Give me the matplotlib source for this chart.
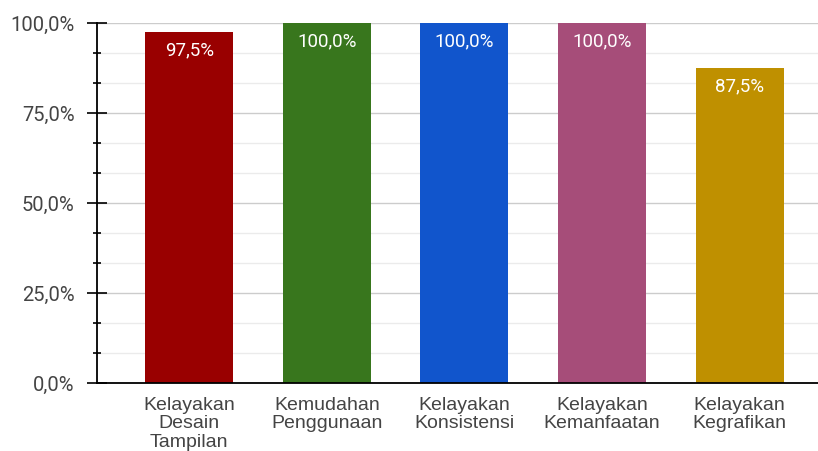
import matplotlib
matplotlib.use("Agg")
import matplotlib.pyplot as plt
from matplotlib.ticker import FuncFormatter, MultipleLocator

categories = ["Kelayakan\nDesain\nTampilan", "Kemudahan\nPenggunaan", "Kelayakan\nKonsistensi",
              "Kelayakan\nKemanfaatan", "Kelayakan\nKegrafikan"]
values = [0.975, 1.0, 1.0, 1.0, 0.875]
colors = ["#990000", "#38761d", "#1155cc", "#a64d79", "#bf9000"]

def pct(v, pos=None):
    return f"{v * 100:.1f}%".replace(".", ",")

fig = plt.figure(figsize=(8.18, 4.51), dpi=100)
ax = fig.add_axes([97 / 818, 1 - 383 / 451, 1 - 97 / 818, 360 / 451])

x = list(range(len(categories)))
bars = ax.bar(x, values, width=0.64, color=colors, zorder=3)

for xi, v in zip(x, values):
    ax.annotate(pct(v), (xi, v), xytext=(0, -18), textcoords="offset pixels",
                ha="center", va="center", color="white", fontsize=13.5,
                family="Roboto", zorder=4)

ax.set_xlim(-0.67, 4.57)
ax.set_ylim(0, 1)
ax.yaxis.set_major_locator(MultipleLocator(0.25))
ax.yaxis.set_minor_locator(MultipleLocator(0.25 / 3))
ax.yaxis.set_major_formatter(FuncFormatter(pct))

ax.grid(True, which="major", axis="y", color="#cccccc", linewidth=1, zorder=0)
ax.grid(True, which="minor", axis="y", color="#ebebeb", linewidth=1, zorder=0)

ax.set_xticks(x)
ax.set_xticklabels(categories, family="Liberation Sans", fontsize=14, color="#444444",
                   linespacing=1.12)
ax.tick_params(axis="x", length=0, pad=10)
ax.tick_params(axis="y", which="major", direction="inout", length=14, width=1.2,
               labelsize=14.5, labelcolor="#444444", pad=9)
ax.tick_params(axis="y", which="minor", direction="inout", length=6, width=1.2)
for lab in ax.get_yticklabels():
    lab.set_family("Roboto")

for s in ["top", "right"]:
    ax.spines[s].set_visible(False)
ax.spines["left"].set_linewidth(1.3)
ax.spines["bottom"].set_linewidth(1.3)
ax.spines["left"].set_zorder(5)
ax.spines["bottom"].set_zorder(5)

fig.savefig("out.png", dpi=100)
